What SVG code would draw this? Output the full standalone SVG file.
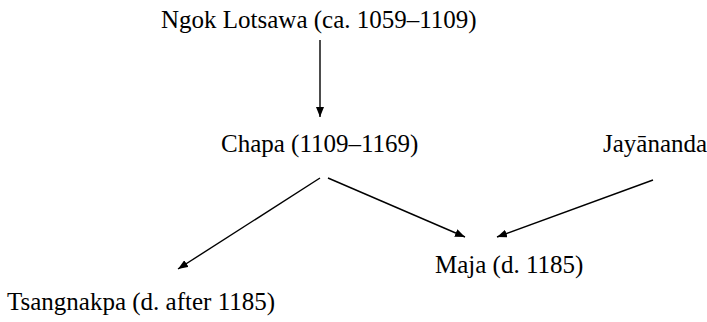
<svg xmlns="http://www.w3.org/2000/svg" width="707" height="322" viewBox="0 0 707 322">
<style>
text{font-family:"Liberation Serif","Times New Roman",serif;font-size:25px;fill:#000}
.c line{stroke:#000;stroke-width:1.4}
</style>
<defs>
<marker id="ah" viewBox="0 0 10 8" refX="10" refY="4" markerWidth="10" markerHeight="8" markerUnits="userSpaceOnUse" orient="auto">
<path d="M0,0 L10,4 L0,8 Z" fill="#000"/>
</marker>
</defs>
<rect width="707" height="322" fill="#fff"/>
<g id="ngok"><text x="161" y="28">Ngok Lotsawa (ca. 1059–1109)</text></g>
<g id="chapa"><text x="221" y="152">Chapa (1109–1169)</text></g>
<g id="jayananda"><text x="603" y="152">Jayānanda</text></g>
<g id="maja"><text x="435" y="273">Maja (d. 1185)</text></g>
<g id="tsangnakpa"><text x="7" y="310">Tsangnakpa (d. after 1185)</text></g>
<g class="c" id="connectors">
<line x1="320" y1="40" x2="320" y2="117" marker-end="url(#ah)"/>
<line x1="320" y1="178" x2="178" y2="269" marker-end="url(#ah)"/>
<line x1="328" y1="178" x2="465" y2="237" marker-end="url(#ah)"/>
<line x1="653" y1="180" x2="497" y2="237" marker-end="url(#ah)"/>
</g>
</svg>
